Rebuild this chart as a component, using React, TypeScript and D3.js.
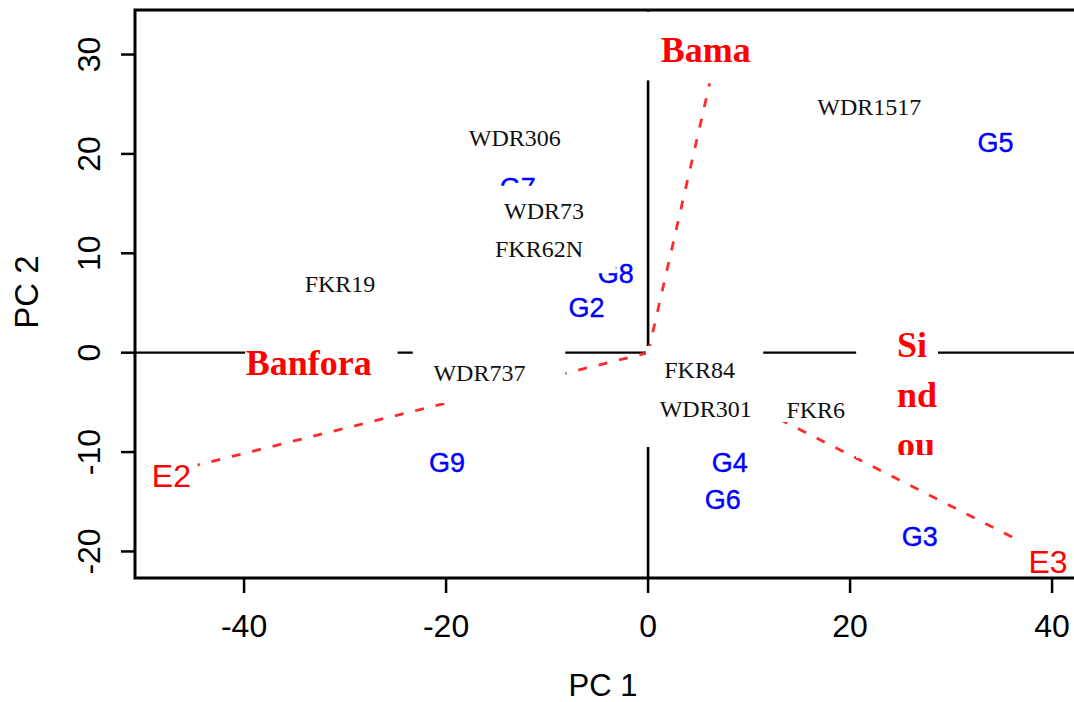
import React from 'react';
import * as d3 from 'd3';

// PCA biplot: genotypes (G*), accessions and environment vectors (E*)
const xTicks = [-40, -20, 0, 20, 40];
const yTicks = [-20, -10, 0, 10, 20, 30];

const accessions = ['WDR306', 'WDR1517', 'WDR73', 'FKR62N', 'FKR19', 'WDR737', 'FKR84', 'WDR301', 'FKR6'];
const accPC1 = [-13.2, 21.9, -10.3, -10.8, -30.5, -16.7, 5.1, 5.7, 16.6];
const accPC2 = [21.6, 24.7, 14.3, 10.4, 6.9, -2.0, -1.7, -5.7, -5.8];

const genotypes = ['G5', 'G7', 'G8', 'G2', 'G9', 'G4', 'G6', 'G3'];
const genPC1 = [34.4, -12.9, -3.2, -6.1, -19.9, 8.1, 7.4, 26.9];
const genPC2 = [21.2, 16.6, 8.0, 4.6, -11.0, -11.0, -14.7, -18.5];

// E1's label sits under the Bama box in the picture, so only E2 and E3 are written
const envs = ['E1', 'E2', 'E3'];
const envTipPC1 = [6.1, -44.6, 37.1];
const envTipPC2 = [27.1, -11.3, -19.1];
const envLabels = ['E2', 'E3'];
const envLabelPC1 = [-47.2, 39.6];
const envLabelPC2 = [-12.4, -21.0];

// white boxes pasted over the plot, in data units [x0, x1, y0, y1]
const masks = [
  [-0.8, 11.7, 34.3, 27.4],
  [-39.9, -24.8, 1.8, -3.95],
  [-23.3, -8.2, 0.77, -5.06],
  [-0.2, 11.4, 0.67, -9.49],
  [11.1, 23.0, -4.26, -6.97],
  [20.6, 28.7, 2.28, -10.6],
  [-15.1, -5.5, 16.8, 12.3],
  [-16.1, -3.2, 12.1, 8.0],
];

const locations = ['Bama', 'Banfora'];
const locPC1 = [5.7, -33.6];
const locPC2 = [30.45, -1.04];
const sindou = ['Si', 'nd', 'ou'];

const serif = '"Liberation Serif", "Times New Roman", serif';
const sans = '"Liberation Sans", Arial, sans-serif';

export default function App() {
  const left = 135, top = 10, bottom = 578;
  const x = d3.scaleLinear().domain([-50.8, 42.8]).range([left, left + 93.6 * 10.1]);
  const y = d3.scaleLinear().domain([-22.67, 34.48]).range([bottom, top]);
  const right = x(42.8);

  return (
    <svg width={1074} height={702} style={{ position: 'absolute', left: 0, top: 0, background: '#fff' }}>
      <rect width={1074} height={702} fill="#fff" />
      <defs>
        <clipPath id="sindouClip">
          <rect x={850} y={300} width={120} height={155} />
        </clipPath>
      </defs>

      {/* zero lines */}
      <line x1={left} x2={right} y1={y(0)} y2={y(0)} stroke="#000" strokeWidth={2.3} />
      <line x1={x(0)} x2={x(0)} y1={top} y2={bottom} stroke="#000" strokeWidth={2.6} />

      {/* environment vectors */}
      {envs.map((e, i) => (
        <line key={e} x1={x(0)} y1={y(0)} x2={x(envTipPC1[i])} y2={y(envTipPC2[i])}
          stroke="#ff2a2a" strokeWidth={2.8} strokeDasharray="9,12" />
      ))}

      {genotypes.map((g, i) => (
        <text key={g} x={x(genPC1[i])} y={y(genPC2[i])} dy="0.36em" textAnchor="middle"
          fontFamily={sans} fontSize={27} fill="#0000ff" stroke="#0000ff" strokeWidth={0.4}>{g}</text>
      ))}

      {envLabels.map((e, i) => (
        <text key={e} x={x(envLabelPC1[i])} y={y(envLabelPC2[i])} dy="0.36em" textAnchor="middle"
          fontFamily={sans} fontSize={32} fill="#ff0000">{e}</text>
      ))}

      {masks.map((m, i) => (
        <rect key={i} x={x(m[0])} y={y(m[2])} width={x(m[1]) - x(m[0])} height={y(m[3]) - y(m[2])} fill="#fff" />
      ))}

      {accessions.map((a, i) => (
        <text key={a} x={x(accPC1[i])} y={y(accPC2[i])} dy="0.34em" textAnchor="middle"
          fontFamily={serif} fontSize={24} fill="#111">{a}</text>
      ))}

      {locations.map((l, i) => (
        <text key={l} x={x(locPC1[i])} y={y(locPC2[i])} dy="0.34em" textAnchor="middle"
          fontFamily={serif} fontWeight="bold" fontSize={36} fill="#ff0000">{l}</text>
      ))}
      <g clipPath="url(#sindouClip)">
        {sindou.map((s, i) => (
          <text key={s} x={897} y={357 + i * 50} fontFamily={serif} fontWeight="bold" fontSize={36} fill="#ff0000">{s}</text>
        ))}
      </g>

      {/* frame and axes */}
      <rect x={left} y={top} width={right - left + 10} height={bottom - top} fill="none" stroke="#000" strokeWidth={3} />
      {xTicks.map(t => (
        <g key={t}>
          <line x1={x(t)} x2={x(t)} y1={bottom} y2={bottom + 15} stroke="#000" strokeWidth={2.5} />
          <text x={x(t)} y={637} textAnchor="middle" fontFamily={sans} fontSize={32} fill="#000">{t}</text>
        </g>
      ))}
      {yTicks.map(t => (
        <g key={t}>
          <line x1={left - 14} x2={left} y1={y(t)} y2={y(t)} stroke="#000" strokeWidth={2.5} />
          <text transform={`translate(100,${y(t)}) rotate(-90)`} textAnchor="middle" fontFamily={sans} fontSize={32} fill="#000">{t}</text>
        </g>
      ))}
      <text x={603} y={696} textAnchor="middle" fontFamily={sans} fontSize={31} fill="#000">PC 1</text>
      <text transform="translate(38,292) rotate(-90)" textAnchor="middle" fontFamily={sans} fontSize={33} fill="#000">PC 2</text>
    </svg>
  );
}
